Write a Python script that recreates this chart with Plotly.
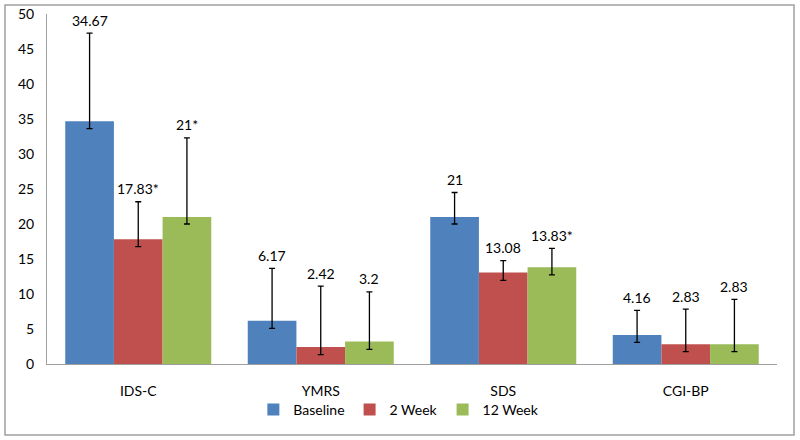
import plotly.graph_objects as go

categories = ["IDS-C", "YMRS", "SDS", "CGI-BP"]
series_names = ["Baseline", "2 Week", "12 Week"]
baseline = [34.67, 6.17, 21, 4.16]
week2 = [17.83, 2.42, 13.08, 2.83]
week12 = [21, 3.2, 13.83, 2.83]
err_plus_baseline = [12.6, 7.5, 3.5, 3.5]
err_plus_week2 = [5.35, 8.7, 1.7, 5.0]
err_plus_week12 = [11.3, 7.1, 2.7, 6.4]
err_minus_baseline = [1.05, 1.07, 1.0, 1.06]
err_minus_week2 = [1.07, 1.09, 1.13, 1.07]
err_minus_week12 = [1.0, 1.1, 1.1, 1.07]
labels_baseline = ["34.67", "6.17", "21", "4.16"]
labels_week2 = ["17.83*", "2.42", "13.08", "2.83"]
labels_week12 = ["21*", "3.2", "13.83*", "2.83"]
colors = ["#4F81BD", "#C0504D", "#9BBB59"]
y_ticks = [0, 5, 10, 15, 20, 25, 30, 35, 40, 45, 50]

values = [baseline, week2, week12]
err_plus = [err_plus_baseline, err_plus_week2, err_plus_week12]
err_minus = [err_minus_baseline, err_minus_week2, err_minus_week12]
labels = [labels_baseline, labels_week2, labels_week12]

FONT = "Lato"
bargap = 0.2
nser = len(series_names)
bw = (1 - bargap) / nser

fig = go.Figure()
annotations = []
for s in range(nser):
    fig.add_trace(go.Bar(
        name=series_names[s], x=categories, y=values[s],
        marker=dict(color=colors[s], line=dict(width=0)),
        error_y=dict(type="data", symmetric=False, array=err_plus[s],
                     arrayminus=err_minus[s], color="black", thickness=1.3, width=3),
    ))
    off = (s - (nser - 1) / 2) * bw
    for i in range(len(categories)):
        annotations.append(dict(
            x=i + off, y=values[s][i] + err_plus[s][i], xref="x", yref="y",
            text=labels[s][i], showarrow=False, yanchor="middle", yshift=13,
            font=dict(family=FONT, size=14, color="black"),
        ))

W, H = 800, 440
ml, mr, mt, mb = 47, 23, 14, 76
pw, ph = W - ml - mr, H - mt - mb

fig.update_layout(
    width=W, height=H,
    margin=dict(l=ml, r=mr, t=mt, b=mb, autoexpand=False),
    paper_bgcolor="white", plot_bgcolor="white",
    barmode="group", bargap=bargap, bargroupgap=0,
    font=dict(family=FONT, size=14, color="black"),
    showlegend=True,
    legend=dict(orientation="h", x=0.482, xanchor="center", y=-0.131, yanchor="middle",
                bgcolor="rgba(0,0,0,0)", itemwidth=30,
                font=dict(family=FONT, size=14), traceorder="normal"),
    xaxis=dict(showline=True, linecolor="#A0A0A0", linewidth=1, showgrid=False,
               automargin=False, ticks="", ticklabelstandoff=14, tickfont=dict(size=14)),
    yaxis=dict(range=[0, 50], tickvals=y_ticks, showline=True, linecolor="#A0A0A0",
               linewidth=1, showgrid=False, zeroline=False, ticks="", automargin=False,
               ticklabelstandoff=9, tickfont=dict(size=14)),
    annotations=annotations,
    shapes=[dict(type="rect", xref="paper", yref="paper",
                 x0=(5 - ml) / pw, x1=(794 - ml) / pw,
                 y0=(H - mb - 435) / ph, y1=(H - mb - 5) / ph,
                 line=dict(color="#A0A0A0", width=1.5), layer="below")],
)

fig.write_html("out.html", config={"displayModeBar": False},
               post_script="document.body.style.margin='0';document.body.style.padding='0';")
